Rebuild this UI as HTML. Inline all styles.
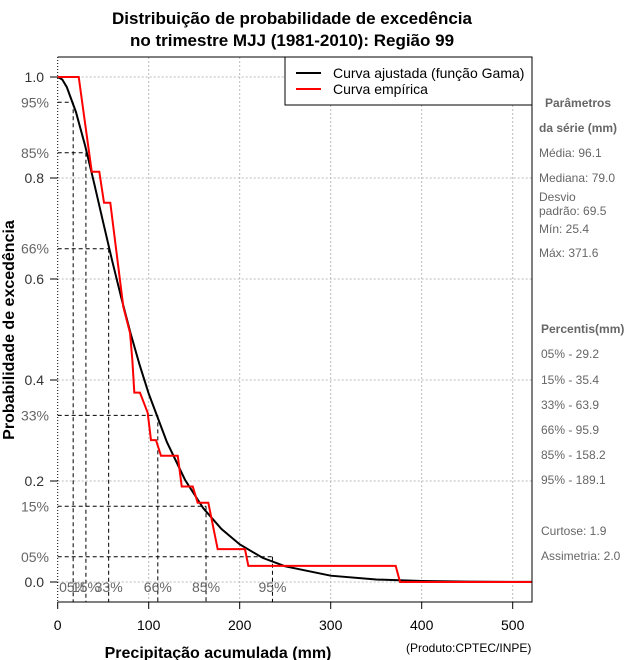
<!DOCTYPE html>
<html><head><meta charset="utf-8"><style>
body{margin:0;background:#fff}
svg{display:block;font-family:"Liberation Sans",sans-serif}
.g{fill:#666}
</style></head><body>
<svg id="chart" width="640" height="660">
<text x="292" y="24" text-anchor="middle" font-size="17" font-weight="bold">Distribuição de probabilidade de excedência</text>
<text x="292" y="46" text-anchor="middle" font-size="17" font-weight="bold">no trimestre MJJ (1981-2010): Região 99</text>
<g id="grid"></g>
<g id="pct"></g>
<g id="series"></g>
<g id="axes"></g>
<text transform="translate(14,330) rotate(-90)" text-anchor="middle" font-size="16" font-weight="bold">Probabilidade de excedência</text>
<text x="218" y="658" text-anchor="middle" font-size="16" font-weight="bold">Precipitação acumulada (mm)</text>
<text x="406" y="652" font-size="12">(Produto:CPTEC/INPE)</text>
<g>
<rect x="285" y="57" width="247" height="48" fill="#fff" stroke="#000"/>
<line x1="296" y1="73" x2="321" y2="73" stroke="#000" stroke-width="2"/>
<text x="333" y="78" font-size="14">Curva ajustada (função Gama)</text>
<line x1="296" y1="89" x2="321" y2="89" stroke="red" stroke-width="2"/>
<text x="333" y="94" font-size="14">Curva empírica</text>
</g>
<g font-size="12" class="g">
<text x="545" y="107" font-weight="bold">Parâmetros</text>
<text x="539" y="132" font-weight="bold">da série (mm)</text>
<text x="539" y="157">Média: 96.1</text>
<text x="539" y="182">Mediana: 79.0</text>
<text x="539" y="201">Desvio</text>
<text x="539" y="215">padrão: 69.5</text>
<text x="539" y="233">Mín: 25.4</text>
<text x="539" y="257">Máx: 371.6</text>
<text x="541" y="333" font-weight="bold">Percentis(mm)</text>
<text x="541" y="358">05% - 29.2</text>
<text x="541" y="384">15% - 35.4</text>
<text x="541" y="409">33% - 63.9</text>
<text x="541" y="434">66% - 95.9</text>
<text x="541" y="459">85% - 158.2</text>
<text x="541" y="484">95% - 189.1</text>
<text x="541" y="535">Curtose: 1.9</text>
<text x="541" y="560">Assimetria: 2.0</text>
</g>
</svg>
<script>
const xTicks=[0,100,200,300,400,500];
const yTicks=[0,0.2,0.4,0.6,0.8,1.0];
const yTickLabels=["0.0","0.2","0.4","0.6","0.8","1.0"];
const fitX=[0,5,10,20,30,40,50,60,70,80,90,100,120,140,160,180,200,225,250,300,350,400,450,500,521];
const fitP=[1,0.995,0.98,0.931,0.865,0.79,0.712,0.635,0.562,0.493,0.43,0.373,0.277,0.202,0.146,0.105,0.0746,0.048,0.031,0.0125,0.0049,0.0019,0.0007,0.0003,0.0002];
const empX=[0,23.1,37.4,45.7,50.9,57.8,72.1,79.5,82.0,84.2,90.4,98.9,102.5,108,113.5,131.9,136.3,148.4,153.8,165.5,175.8,205.8,209.5,371.4,376.2,521];
const empP=[1,1,0.8125,0.8125,0.751,0.751,0.545,0.493,0.44,0.375,0.375,0.335,0.281,0.281,0.25,0.25,0.189,0.189,0.157,0.157,0.065,0.065,0.032,0.032,0,0];
const exceedP=[0.95,0.85,0.66,0.33,0.15,0.05];
const exceedLabels=["95%","85%","66%","33%","15%","05%"];
const crossX=[17,31,56,110,163,236];
const bottomLabels=["05%","15%","33%","66%","85%","95%"];
const NS="http://www.w3.org/2000/svg";
const X=v=>57.7+v*0.91, Y=p=>582-p*505;
const L=57.7,R=532,T=57,B=602;
function mk(par,tag,at,txt){const e=document.createElementNS(NS,tag);for(const k in at)e.setAttribute(k,at[k]);if(txt!=null)e.textContent=txt;document.getElementById(par).appendChild(e);return e;}
xTicks.forEach((t,i)=>{if(t>0){const e=mk('grid','line',{x1:X(t),x2:X(t),y1:T,y2:B,stroke:'#bbb','stroke-dasharray':'2,2'});

}});
yTicks.forEach(t=>{const e=mk('grid','line',{x1:L,x2:R,y1:Y(t),y2:Y(t),stroke:'#bbb','stroke-dasharray':'2,2'});

});
exceedP.forEach((p,i)=>{const cx=X(crossX[i]);
const h=mk('pct','line',{x1:L,x2:cx,y1:Y(p),y2:Y(p),stroke:'#000','stroke-dasharray':'4,3'});


const v=mk('pct','line',{x1:cx,x2:cx,y1:Y(p),y2:B,stroke:'#000','stroke-dasharray':'4,3'});


const yl=mk('pct','text',{x:49,y:Y(p)+5,'text-anchor':'end','font-size':14,fill:'#666'},exceedLabels[i]);


const bl=mk('pct','text',{x:cx,y:592,'text-anchor':'middle','font-size':14,fill:'#666'},bottomLabels[i]);

});
const fit=mk('series','polyline',{points:fitX.map((x,i)=>X(x)+','+Y(fitP[i])).join(' '),fill:'none',stroke:'#000','stroke-width':2});


const emp=mk('series','polyline',{points:empX.map((x,i)=>X(x)+','+Y(empP[i])).join(' '),fill:'none',stroke:'red','stroke-width':2});


const fr=mk('axes','path',{d:`M${L},${T}H${R}V${B}H${L}`,fill:'none',stroke:'#000'});


const lf=mk('axes','line',{x1:L,x2:L,y1:T,y2:B,stroke:'#000','stroke-dasharray':'1,2'});


xTicks.forEach(t=>{const tk=mk('axes','line',{x1:X(t),x2:X(t),y1:B,y2:B+7,stroke:'#000'});


const tl=mk('axes','text',{x:X(t),y:630,'text-anchor':'middle','font-size':14},String(t));

});
yTicks.forEach((t,i)=>{const tk=mk('axes','line',{x1:50,x2:L,y1:Y(t),y2:Y(t),stroke:'#000'});


const tl=mk('axes','text',{x:44,y:Y(t)+5,'text-anchor':'end','font-size':14,fill:'#333'},yTickLabels[i]);

});
</script>
</body></html>
